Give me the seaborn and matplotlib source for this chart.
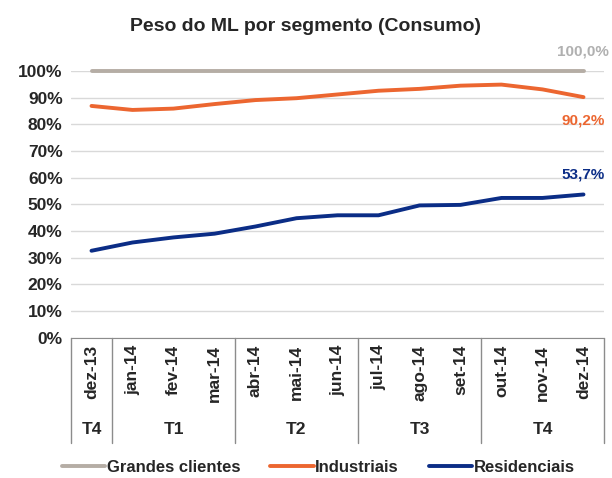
import seaborn as sns
import matplotlib.pyplot as plt
import pandas as pd

months = ['dez-13', 'jan-14', 'fev-14', 'mar-14', 'abr-14', 'mai-14', 'jun-14',
          'jul-14', 'ago-14', 'set-14', 'out-14', 'nov-14', 'dez-14']
grandes = [100.0] * 13
industriais = [86.9, 85.4, 85.9, 87.6, 89.1, 89.8, 91.2, 92.6, 93.3, 94.5, 94.9, 93.1, 90.2]
residenciais = [32.6, 35.7, 37.6, 39.0, 41.7, 44.8, 45.9, 45.9, 49.6, 49.8, 52.4, 52.4, 53.7]
quarters = ['T4', 'T1', 'T2', 'T3', 'T4']
quarter_bounds = [(-0.5, 0.5), (0.5, 3.5), (3.5, 6.5), (6.5, 9.5), (9.5, 12.5)]

GREY = '#b5ada5'
ORANGE = '#ec6630'
BLUE = '#0b2d86'

sns.set_style("white")
plt.rcParams['font.family'] = ['Liberation Sans Narrow', 'Liberation Sans', 'DejaVu Sans']
plt.rcParams['font.weight'] = 'bold'

df = pd.DataFrame({
    'mes': list(range(13)) * 3,
    'valor': grandes + industriais + residenciais,
    'serie': ['Grandes clientes'] * 13 + ['Industriais'] * 13 + ['Residenciais'] * 13,
})

fig = plt.figure(figsize=(6.12, 4.78), dpi=100)
ax = fig.add_axes([71 / 612, 140.3 / 478, 533 / 612, 266.7 / 478])

sns.lineplot(data=df, x='mes', y='valor', hue='serie',
             palette=[GREY, ORANGE, BLUE], linewidth=2.8, ax=ax,
             legend=False, clip_on=False)

ax.set_xlim(-0.5, 12.5)
ax.set_ylim(0, 100)
ax.set_yticks(range(0, 101, 10))
ax.set_yticklabels([f'{v}%' for v in range(0, 101, 10)], fontsize=12.5, fontweight='bold')
ax.tick_params(axis='y', length=0, pad=6)
ax.yaxis.grid(True, color='#d9d9d9', linewidth=1)
ax.set_axisbelow(True)
for s in ['top', 'right', 'left']:
    ax.spines[s].set_visible(False)
ax.spines['bottom'].set_color('#8c8c8c')
ax.set_xlabel('')
ax.set_ylabel('')

ax.set_xticks(range(13))
ax.set_xticklabels(months, rotation=90, fontsize=12.5, fontweight='bold')
ax.tick_params(axis='x', length=0, pad=5)

# quarter row
tr = ax.get_xaxis_transform()
for (a, b), q in zip(quarter_bounds, quarters):
    ax.text((a + b) / 2, -0.345, q, transform=tr, ha='center', va='center',
            fontsize=12.5, fontweight='bold')
for b in [-0.5, 0.5, 3.5, 6.5, 9.5, 12.5]:
    ax.plot([b, b], [0, -0.395], transform=tr, color='#8c8c8c', linewidth=1, clip_on=False)

# end labels
fig.text(609 / 612, 1 - 52 / 478, '100,0%', color='#b0b0b0', fontsize=11, fontweight='bold',
         ha='right', va='center')
ax.text(12.0, 81.3, '90,2%', color=ORANGE, fontsize=11, fontweight='bold', ha='center', va='center')
ax.text(12.0, 61.3, '53,7%', color=BLUE, fontsize=11, fontweight='bold', ha='center', va='center')

fig.text(0.5, 0.945, 'Peso do ML por segmento (Consumo)', ha='center', va='center',
         fontsize=14, fontweight='bold')

handles = [plt.Line2D([], [], color=c, linewidth=2.8) for c in [GREY, ORANGE, BLUE]]
fig.legend(handles, ['Grandes clientes', 'Industriais', 'Residenciais'],
           loc='center', bbox_to_anchor=(0.52, 0.022), ncol=3, frameon=False,
           prop={'size': 12, 'weight': 'bold'}, handlelength=2.6, handletextpad=0.1,
           columnspacing=1.8)

fig.savefig('out.png', dpi=100)
